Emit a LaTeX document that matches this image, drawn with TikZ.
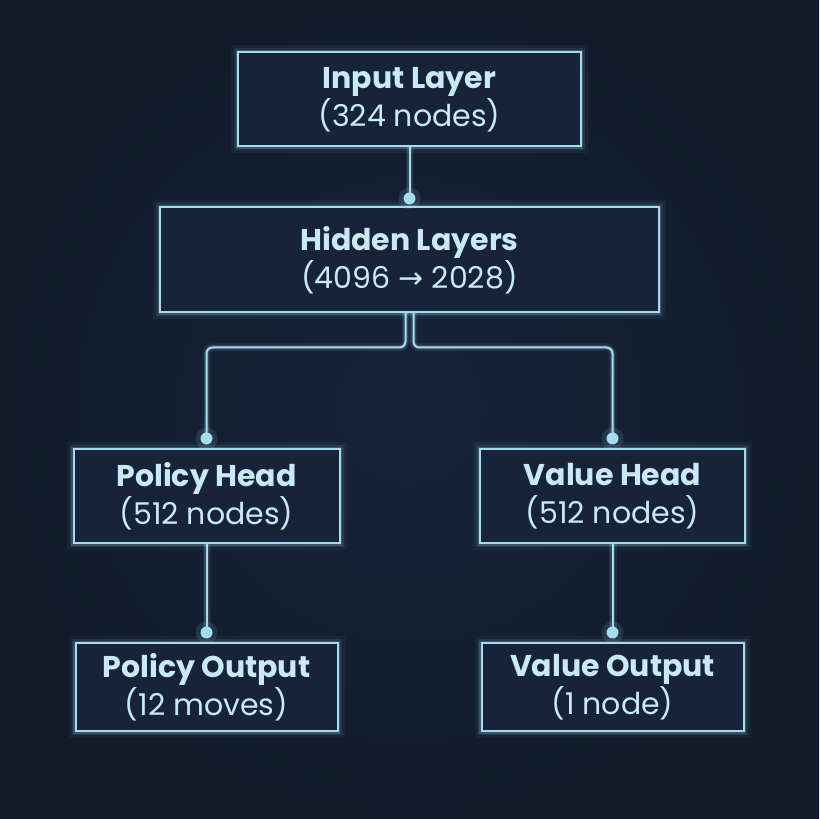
\documentclass[tikz,border=0pt]{standalone}
\usepackage{fontspec}
\setmainfont{Poppins}
\newfontfamily\arrowfont{DejaVu Sans}
\usetikzlibrary{positioning, calc}

\definecolor{bgnavy}{HTML}{16233A}
\definecolor{bgdeep}{HTML}{111B2C}
\definecolor{wireblue}{HTML}{A6DDEE}
\definecolor{labelblue}{HTML}{C9EAF4}

\begin{document}
\begin{tikzpicture}[line width=2pt]

	\tikzset{
		layer/.style={
				rectangle, draw=wireblue, fill=bgnavy, text=labelblue, align=center,
				inner sep=0pt, outer sep=0pt, minimum height=94pt,
				font=\fontsize{30}{38}\selectfont,
				execute at begin node=\rule{0pt}{36pt},
				preaction={draw=wireblue, line width=14pt, draw opacity=0.05},
				preaction={draw=wireblue, line width=8pt, draw opacity=0.09},
				preaction={draw=wireblue, line width=4.5pt, draw opacity=0.18}
			},
		link/.style={
				draw=wireblue, rounded corners=6pt,
				preaction={draw=wireblue, line width=8pt, draw opacity=0.08},
				preaction={draw=wireblue, line width=4.5pt, draw opacity=0.15}
			},
		knob/.style={
				fill=wireblue
			},
	}

	% background
	\path[use as bounding box, inner color=bgnavy, outer color=bgdeep]
		(0,0) rectangle (819pt,819pt);

	\node[layer, minimum width=343pt] (input) at (409.5pt,719.5pt)
		{\textbf{Input Layer}\\(324 nodes)};
	\node[layer, minimum width=499pt, minimum height=105pt, below=61pt of input] (hidden)
		{\textbf{Hidden Layers}\\(4096 {\arrowfont\fontsize{30}{38}\selectfont →} 2028)};

	\node[layer, minimum width=266pt, below=137pt of hidden, xshift=-203pt] (phead)
		{\textbf{Policy Head}\\(512 nodes)};
	\node[layer, minimum width=265pt, below=137pt of hidden, xshift=203pt] (vhead)
		{\textbf{Value Head}\\(512 nodes)};

	\node[layer, minimum width=262pt, minimum height=88pt, below=100pt of phead] (pout)
		{\textbf{Policy Output}\\(12 moves)};
	\node[layer, minimum width=262pt, minimum height=88pt, below=100pt of vhead] (vout)
		{\textbf{Value Output}\\(1 node)};

	% dots and fork
	\coordinate[above=9pt of hidden.north] (hdot);
	\coordinate[above=11pt of phead.north] (pdot);
	\coordinate[above=11pt of vhead.north] (vdot);
	\coordinate[above=11pt of pout.north] (podot);
	\coordinate[above=11pt of vout.north] (vodot);
	\coordinate[below=35pt of hidden.south] (fork);

	\draw[link] (input.south) -- (hdot);
	\draw[link] ([xshift=-4pt]hidden.south) -- ([xshift=-4pt]fork) -| (pdot);
	\draw[link] ([xshift=4pt]hidden.south) -- ([xshift=4pt]fork) -| (vdot);
	\draw[link] (phead.south) -- (podot);
	\draw[link] (vhead.south) -- (vodot);

	\foreach \d in {hdot, pdot, vdot, podot, vodot}{
		\fill[wireblue, opacity=0.12] (\d) circle (11pt);
		\fill[knob] (\d) circle (6pt);
	}

\end{tikzpicture}
\end{document}
